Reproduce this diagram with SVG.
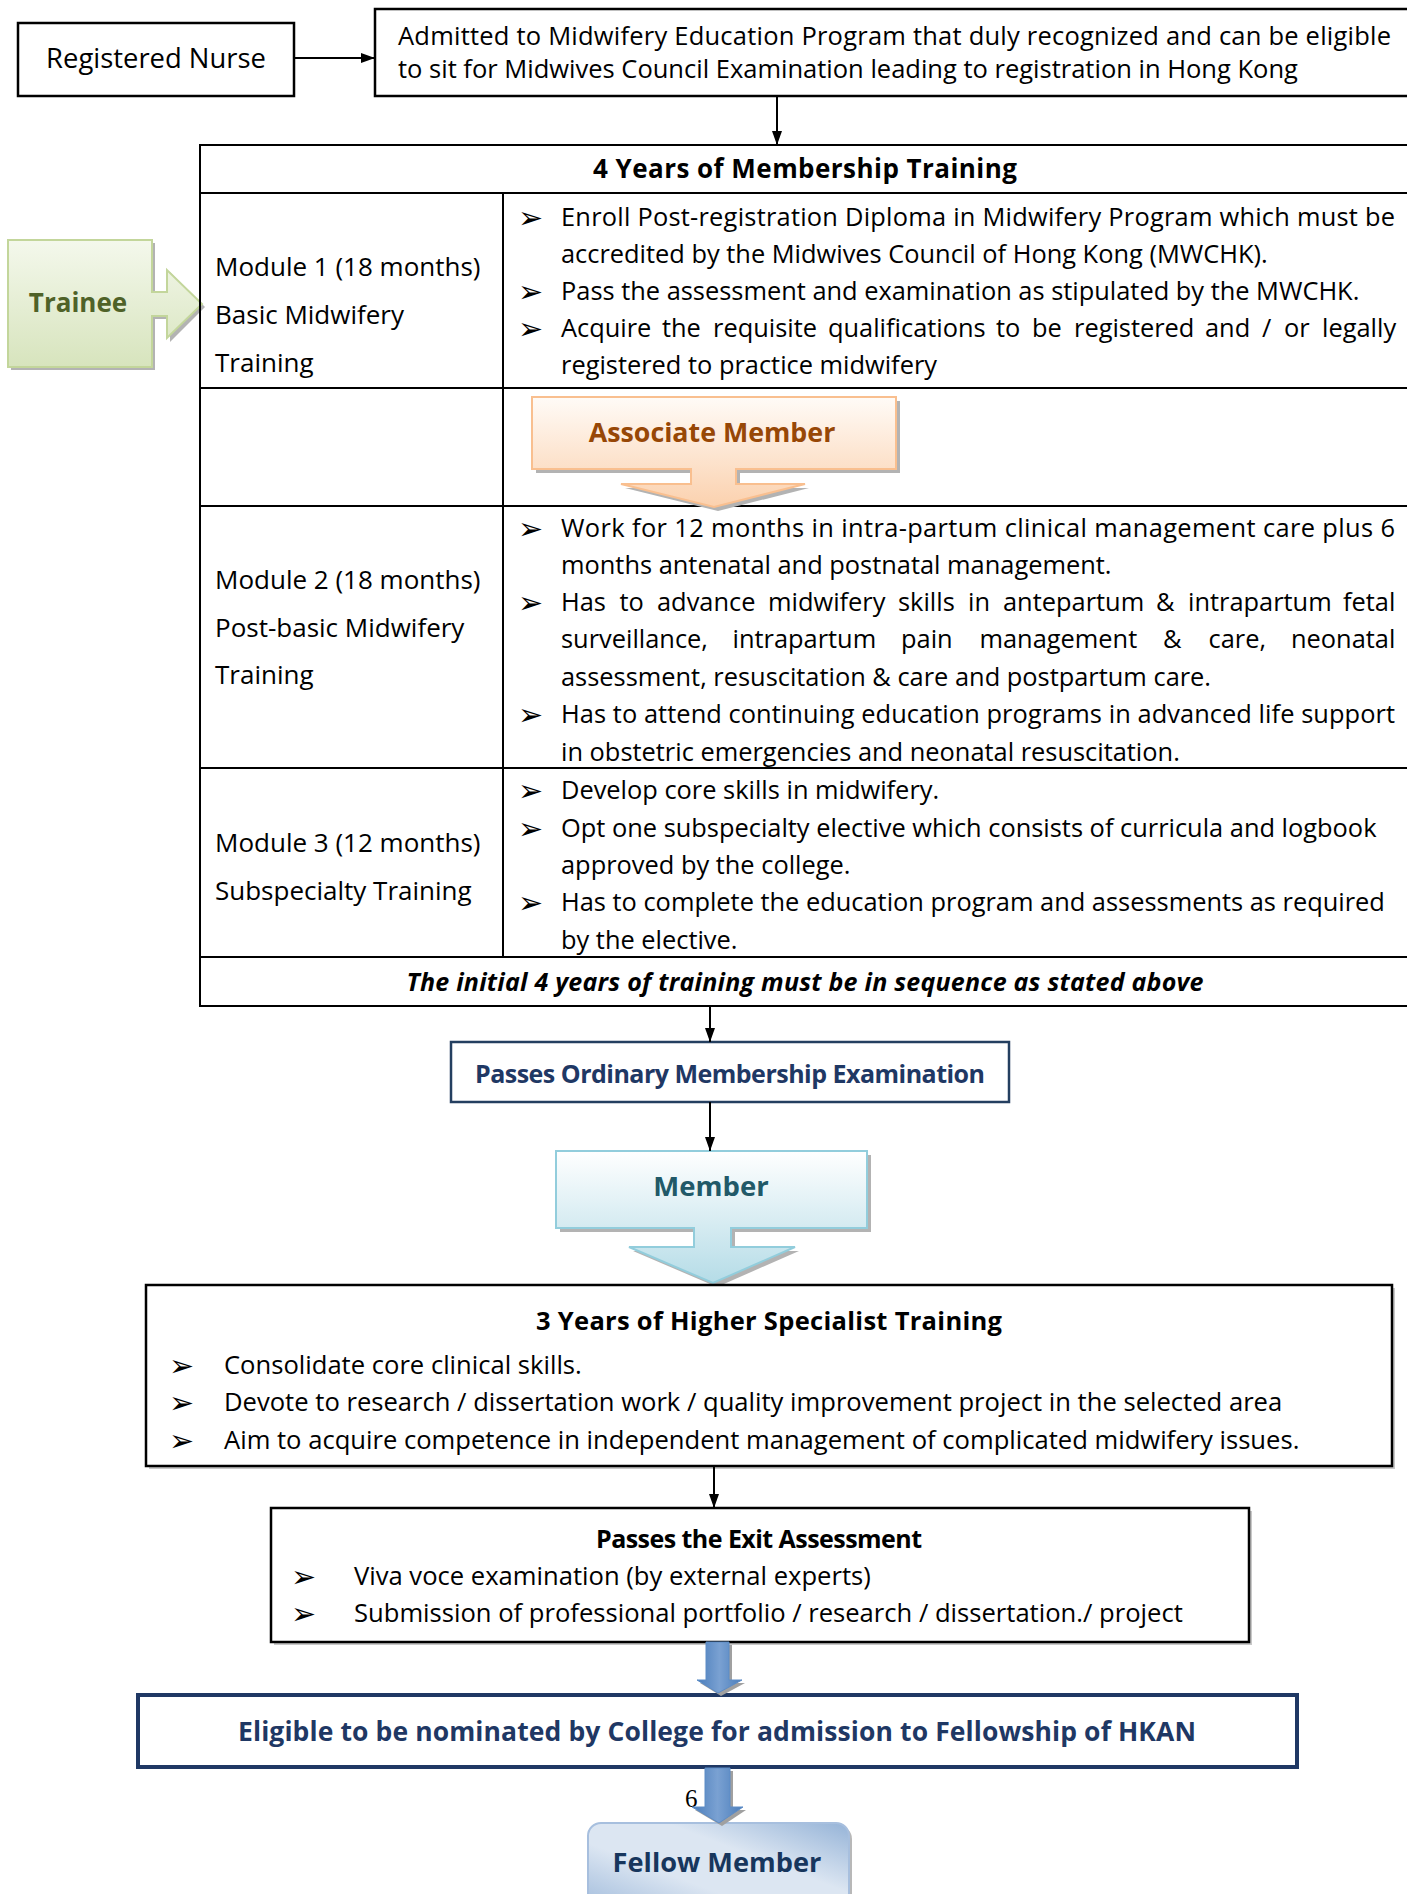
<svg xmlns="http://www.w3.org/2000/svg" width="1407" height="1894" viewBox="0 0 1407 1894">
<defs>
<style>
text{font-family:"Open Sans","Noto Sans","DejaVu Sans",sans-serif;fill:#000}
.t{font-size:25.4px}
.w{font-size:25.6px}
.m{font-size:26px}
.b{font-weight:700}
.c{text-anchor:middle}
.bul{font-family:"DejaVu Sans",sans-serif;font-size:30px}
.box{fill:#fff;stroke:#000;stroke-width:2.5}
.grid{stroke:#000;stroke-width:2;fill:none}
.con{stroke:#000;stroke-width:2;fill:none}
.shadow{fill:#b3b3b3}
.navy{fill:#1f3864}
</style>
<marker id="ah" markerUnits="userSpaceOnUse" markerWidth="14" markerHeight="10" refX="14" refY="5" orient="auto">
<path d="M0,0 L14,5 L0,10 Z" fill="#000"/>
</marker>
<linearGradient id="gTrainee" x1="0" y1="0" x2="0" y2="1">
<stop offset="0" stop-color="#f4f8ec"/><stop offset="1" stop-color="#d7e4bd"/>
</linearGradient>
<linearGradient id="gAssoc" x1="0" y1="0" x2="0" y2="1">
<stop offset="0" stop-color="#fffbf7"/><stop offset="1" stop-color="#fbd1ae"/>
</linearGradient>
<linearGradient id="gMember" x1="0" y1="0" x2="0" y2="1">
<stop offset="0" stop-color="#ffffff"/><stop offset="1" stop-color="#b5dce7"/>
</linearGradient>
<linearGradient id="gFellow" x1="0" y1="1" x2="1" y2="0">
<stop offset="0" stop-color="#95b3d7"/><stop offset="0.4" stop-color="#dce6f2"/><stop offset="0.65" stop-color="#dce6f2"/><stop offset="1" stop-color="#95b3d7"/>
</linearGradient>
<linearGradient id="gBlue" x1="0" y1="0" x2="1" y2="0">
<stop offset="0" stop-color="#4a7dbb"/><stop offset="0.5" stop-color="#7aa1d2"/><stop offset="1" stop-color="#4a7dbb"/>
</linearGradient>
</defs>
<rect x="0" y="0" width="1407" height="1894" fill="#fff"/>

<g id="registered-nurse">
<rect class="box" x="18" y="23" width="276" height="73"/>
<text x="156" y="68" text-anchor="middle" style="font-size:27.4px">Registered Nurse</text>
</g>

<g id="admitted">
<rect class="box" x="375" y="9" width="1040" height="87"/>
<text x="398" y="45" style="font-size:25.5px" textLength="993" lengthAdjust="spacing">Admitted to Midwifery Education Program that duly recognized and can be eligible</text>
<text x="398" y="78" style="font-size:25.5px">to sit for Midwives Council Examination leading to registration in Hong Kong</text>
</g>

<g id="trainee">
<path class="shadow" d="M11,243 H155 V298 H170 V272 L205,307 L170,342 V319 H155 V370 H11 Z"/>
<path d="M8,240 H152 V292 H167 V270 L202,304 L167,338 V316 H152 V367 H8 Z" fill="url(#gTrainee)" stroke="#c3d69b" stroke-width="2"/>
<text class="b c" x="78" y="312" style="font-size:26px;fill:#4f6228">Trainee</text>
</g>

<g id="membership-training">
<rect class="grid" x="200" y="145" width="1215" height="861"/>
<line class="grid" x1="200" y1="193" x2="1410" y2="193"/>
<line class="grid" x1="200" y1="388" x2="1410" y2="388"/>
<line class="grid" x1="200" y1="506" x2="1410" y2="506"/>
<line class="grid" x1="200" y1="768" x2="1410" y2="768"/>
<line class="grid" x1="200" y1="957" x2="1410" y2="957"/>
<line class="grid" x1="503" y1="193" x2="503" y2="957"/>
<text class="b c" x="805" y="178" style="font-size:26px" textLength="424" lengthAdjust="spacing">4 Years of Membership Training</text>

<text class="m" x="215" y="276">Module 1 (18 months)</text>
<text class="m" x="215" y="324">Basic Midwifery</text>
<text class="m" x="215" y="372">Training</text>

<text class="bul" x="518" y="228">➢</text>
<text class="t" x="561" y="226" textLength="834" lengthAdjust="spacing">Enroll Post-registration Diploma in Midwifery Program which must be</text>
<text class="t" x="561" y="263">accredited by the Midwives Council of Hong Kong (MWCHK).</text>
<text class="bul" x="518" y="302">➢</text>
<text class="t" x="561" y="300">Pass the assessment and examination as stipulated by the MWCHK.</text>
<text class="bul" x="518" y="339">➢</text>
<text class="t" y="337"><tspan x="561">Acquire</tspan><tspan x="662">the</tspan><tspan x="713">requisite</tspan><tspan x="828">qualifications</tspan><tspan x="996">to</tspan><tspan x="1032">be</tspan><tspan x="1074">registered</tspan><tspan x="1205">and</tspan><tspan x="1262">/</tspan><tspan x="1284">or</tspan><tspan x="1322">legally</tspan></text>
<text class="t" x="561" y="374">registered to practice midwifery</text>

<text class="m" x="215" y="589">Module 2 (18 months)</text>
<text class="m" x="215" y="637">Post-basic Midwifery</text>
<text class="m" x="215" y="684">Training</text>

<text class="bul" x="518" y="539">➢</text>
<text class="t" x="561" y="537" textLength="834" lengthAdjust="spacing">Work for 12 months in intra-partum clinical management care plus 6</text>
<text class="t" x="561" y="574">months antenatal and postnatal management.</text>
<text class="bul" x="518" y="613">➢</text>
<text class="t" y="611"><tspan x="561">Has</tspan><tspan x="619.5">to</tspan><tspan x="657">advance</tspan><tspan x="768">midwifery</tspan><tspan x="898">skills</tspan><tspan x="968">in</tspan><tspan x="1003">antepartum</tspan><tspan x="1156">&amp;</tspan><tspan x="1188">intrapartum</tspan><tspan x="1343">fetal</tspan></text>
<text class="t" y="648"><tspan x="561">surveillance,</tspan><tspan x="732.5">intrapartum</tspan><tspan x="901">pain</tspan><tspan x="979.5">management</tspan><tspan x="1163">&amp;</tspan><tspan x="1208.5">care,</tspan><tspan x="1291">neonatal</tspan></text>
<text class="t" x="561" y="686">assessment, resuscitation &amp; care and postpartum care.</text>
<text class="bul" x="518" y="725">➢</text>
<text class="t" x="561" y="723" textLength="834" lengthAdjust="spacing">Has to attend continuing education programs in advanced life support</text>
<text class="t" x="561" y="761">in obstetric emergencies and neonatal resuscitation.</text>

<text class="m" x="215" y="852">Module 3 (12 months)</text>
<text class="m" x="215" y="900">Subspecialty Training</text>

<text class="bul" x="518" y="801">➢</text>
<text class="t" x="561" y="799">Develop core skills in midwifery.</text>
<text class="bul" x="518" y="839">➢</text>
<text class="t" x="561" y="837">Opt one subspecialty elective which consists of curricula and logbook</text>
<text class="t" x="561" y="874">approved by the college.</text>
<text class="bul" x="518" y="913">➢</text>
<text class="t" x="561" y="911">Has to complete the education program and assessments as required</text>
<text class="t" x="561" y="949">by the elective.</text>

<text class="b c" x="805" y="991" style="font-size:25px;font-style:italic" textLength="797" lengthAdjust="spacing">The initial 4 years of training must be in sequence as stated above</text>
</g>

<g id="associate-member">
<path class="shadow" d="M536,401 H900 V473 H740 V488 H809 L718,511 L625,488 H695 V473 H536 Z"/>
<path d="M532,397 H896 V469 H736 V484 H805 L714,507 L621,484 H691 V469 H532 Z" fill="url(#gAssoc)" stroke="#f9bf8f" stroke-width="2"/>
<text class="b c" x="712" y="442" style="font-size:26.8px;fill:#974706">Associate Member</text>
</g>

<g id="passes-ordinary">
<rect x="451" y="1042" width="558" height="60" fill="#fff" stroke="#243f60" stroke-width="2.5"/>
<text class="b c navy" x="730" y="1083" style="font-size:25px" textLength="510" lengthAdjust="spacing">Passes Ordinary Membership Examination</text>
</g>

<g id="member">
<path class="shadow" d="M560,1155 H871 V1232 H735 V1251 H799 L717,1287 L633,1251 H698 V1232 H560 Z"/>
<path d="M556,1151 H867 V1228 H731 V1247 H795 L713,1283 L629,1247 H694 V1228 H556 Z" fill="url(#gMember)" stroke="#92cddc" stroke-width="2"/>
<text class="b c" x="711" y="1196" style="font-size:27.5px;fill:#215968">Member</text>
</g>

<g id="higher-specialist">
<rect x="149" y="1288" width="1246" height="181" fill="#c8c8c8"/>
<rect class="box" x="146" y="1285" width="1246" height="181" stroke-width="2"/>
<text class="b c" x="769" y="1330" style="font-size:25.5px" textLength="466" lengthAdjust="spacing">3 Years of Higher Specialist Training</text>
<text class="bul" x="169" y="1376">➢</text>
<text class="w" x="224" y="1374">Consolidate core clinical skills.</text>
<text class="bul" x="169" y="1413">➢</text>
<text class="w" x="224" y="1411">Devote to research / dissertation work / quality improvement project in the selected area</text>
<text class="bul" x="169" y="1451">➢</text>
<text class="w" x="224" y="1449">Aim to acquire competence in independent management of complicated midwifery issues.</text>
</g>

<g id="exit-assessment">
<rect x="274" y="1511" width="978" height="134" fill="#c8c8c8"/>
<rect class="box" x="271" y="1508" width="978" height="134" stroke-width="2"/>
<text class="b c" x="759" y="1548" style="font-size:25px" textLength="326" lengthAdjust="spacing">Passes the Exit Assessment</text>
<text class="bul" x="291" y="1587">➢</text>
<text class="w" x="354" y="1585">Viva voce examination (by external experts)</text>
<text class="bul" x="291" y="1624">➢</text>
<text class="w" x="354" y="1622">Submission of professional portfolio / research / dissertation./ project</text>
</g>

<g id="eligible">
<rect x="138" y="1695" width="1159" height="72" fill="#fff" stroke="#1f3864" stroke-width="4"/>
<text class="b c navy" x="717" y="1741" style="font-size:26.5px" textLength="958" lengthAdjust="spacing">Eligible to be nominated by College for admission to Fellowship of HKAN</text>
</g>

<g id="page-number">
<text x="685" y="1807" style="font-family:'Liberation Serif',serif;font-size:25px">6</text>
</g>

<g id="fellow-member">
<rect x="591" y="1826" width="261" height="100" rx="13" fill="#b8b8b8"/>
<rect x="588" y="1823" width="261" height="100" rx="13" fill="url(#gFellow)" stroke="#a7bfde" stroke-width="2"/>
<text class="b c" x="717" y="1872" style="font-size:27.2px;fill:#17365d">Fellow Member</text>
</g>

<g id="connectors">
<line class="con" x1="294" y1="58" x2="375" y2="58" marker-end="url(#ah)"/>
<line class="con" x1="777" y1="96" x2="777" y2="145" marker-end="url(#ah)"/>
<line class="con" x1="710" y1="1006" x2="710" y2="1042" marker-end="url(#ah)"/>
<line class="con" x1="710" y1="1102" x2="710" y2="1151" marker-end="url(#ah)"/>
<line class="con" x1="714" y1="1466" x2="714" y2="1508" marker-end="url(#ah)"/>
<path d="M709,1645 H732 V1683 H745 L721,1696 L700,1683 H709 Z" fill="#a0a0a0"/>
<path d="M706,1642 H729 V1680 H742 L718,1693 L697,1680 H706 Z" fill="url(#gBlue)" stroke="#5d8cc6" stroke-width="1"/>
<path d="M708,1771 H733 V1810 H746 L722,1826 L695,1810 H708 Z" fill="#a0a0a0"/>
<path d="M705,1768 H730 V1807 H743 L719,1823 L692,1807 H705 Z" fill="url(#gBlue)" stroke="#5d8cc6" stroke-width="1"/>
</g>
</svg>
